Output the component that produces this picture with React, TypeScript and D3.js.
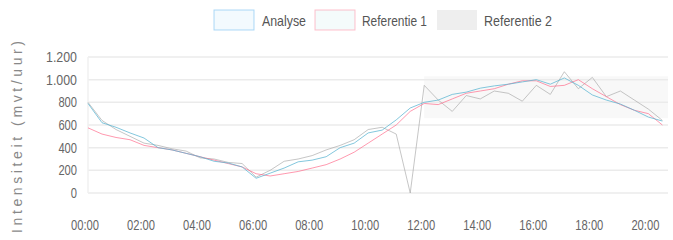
import * as React from 'react';
import {scaleLinear, line, range} from 'd3';

const times = range(0, 42).map(i => i * 0.5);
const tickHours = [0, 2, 4, 6, 8, 10, 12, 14, 16, 18, 20];
const tickLabels = ['00:00', '02:00', '04:00', '06:00', '08:00', '10:00', '12:00', '14:00', '16:00', '18:00', '20:00'];
const yTicks = [0, 200, 400, 600, 800, 1000, 1200];
const yTickLabels = ['0', '200', '400', '600', '800', '1.000', '1.200'];

const analyse = [790, 620, 580, 530, 485, 400, 380, 350, 320, 280, 265, 230, 130, 175, 220, 275, 290, 320, 400, 440, 530, 555, 645, 750, 800, 820, 870, 890, 925, 945, 960, 980, 1000, 960, 1015, 950, 865, 820, 785, 730, 670, 635];
const referentie1 = [575, 520, 490, 470, 420, 400, 380, 350, 320, 290, 260, 230, 170, 150, 170, 190, 220, 250, 300, 360, 440, 520, 600, 720, 790, 780, 830, 880, 900, 920, 960, 990, 990, 940, 950, 1000, 920, 850, 780, 730, 700, 600];
const referentie2 = [800, 640, 560, 500, 440, 420, 390, 370, 310, 300, 270, 260, 140, 200, 280, 300, 330, 380, 420, 470, 560, 580, 520, 0, 950, 820, 720, 860, 830, 900, 880, 810, 950, 870, 1070, 920, 1020, 850, 900, 820, 740, 640];

const legendItems = ['Analyse', 'Referentie 1', 'Referentie 2'];

const W = 673;
const H = 240;
const margin = {left: 88, right: 5, top: 57, bottom: 47};

const xScale = scaleLinear().domain([0, 20.7]).range([margin.left, W - margin.right]);
const yScale = scaleLinear().domain([0, 1200]).range([H - margin.bottom, margin.top]);

const font = '"Liberation Sans", Arial, sans-serif';

const mk = (vals: number[]) =>
    line<number>().x((_, i) => xScale(times[i])).y(d => yScale(d))(vals) || '';

const App = () => {
    return (
        <svg width={W} height={H} style={{position: 'absolute', left: 0, top: 0, background: '#fff'}}>
            {/* legend */}
            <g fontFamily={font} fontSize={15} fill="#555">
                <rect x={214} y={10} width={40} height={20} fill="rgba(54,162,235,0.06)" stroke="rgba(54,162,235,0.4)" />
                <text x={262} y={26} textLength={44} lengthAdjust="spacingAndGlyphs">{legendItems[0]}</text>
                <rect x={315} y={10} width={40} height={20} fill="rgba(75,192,192,0.06)" stroke="rgba(255,99,132,0.4)" />
                <text x={362} y={26} textLength={65} lengthAdjust="spacingAndGlyphs">{legendItems[1]}</text>
                <rect x={437} y={10} width={40} height={20} fill="rgba(200,200,200,0.3)" />
                <text x={484} y={26} textLength={68} lengthAdjust="spacingAndGlyphs">{legendItems[2]}</text>
            </g>
            {/* highlight region */}
            <rect x={xScale(12)} y={yScale(1030)} width={W - margin.right - xScale(12)} height={yScale(660) - yScale(1030)} fill="#f8f8f8" />
            {/* grid */}
            {yTicks.map(t => (
                <line key={t} x1={margin.left} x2={W - margin.right} y1={yScale(t)} y2={yScale(t)} stroke="#ebebeb" strokeWidth={1.5} />
            ))}
            <line x1={margin.left} x2={margin.left} y1={margin.top} y2={H - margin.bottom} stroke="#f0f0f0" strokeWidth={1.5} />
            {/* y ticks */}
            <g fontFamily={font} fontSize={15} fill="#666" textAnchor="end">
                {yTicks.map((t, i) => (
                    <text key={t} x={77} y={yScale(t) + 5} textLength={yTickLabels[i].length * 6.2} lengthAdjust="spacingAndGlyphs">{yTickLabels[i]}</text>
                ))}
            </g>
            {/* x ticks */}
            <g fontFamily={font} fontSize={15} fill="#666" textAnchor="middle">
                {tickHours.map((h, i) => (
                    <text key={h} x={xScale(h) - 3} y={230} textLength={28} lengthAdjust="spacingAndGlyphs">{tickLabels[i]}</text>
                ))}
            </g>
            <text transform="translate(22,137) rotate(-90)" textAnchor="middle" fontFamily={font} fontSize={14} fill="#888" textLength={192} lengthAdjust="spacing">
                Intensiteit (mvt/uur)
            </text>
            {/* series */}
            <path d={mk(referentie2)} fill="none" stroke="rgba(160,160,160,0.6)" strokeWidth={1} />
            <path d={mk(referentie1)} fill="none" stroke="rgba(255,99,132,0.65)" strokeWidth={1} />
            <path d={mk(analyse)} fill="none" stroke="rgba(90,180,210,0.75)" strokeWidth={1} />
        </svg>
    );
};

export default App;
